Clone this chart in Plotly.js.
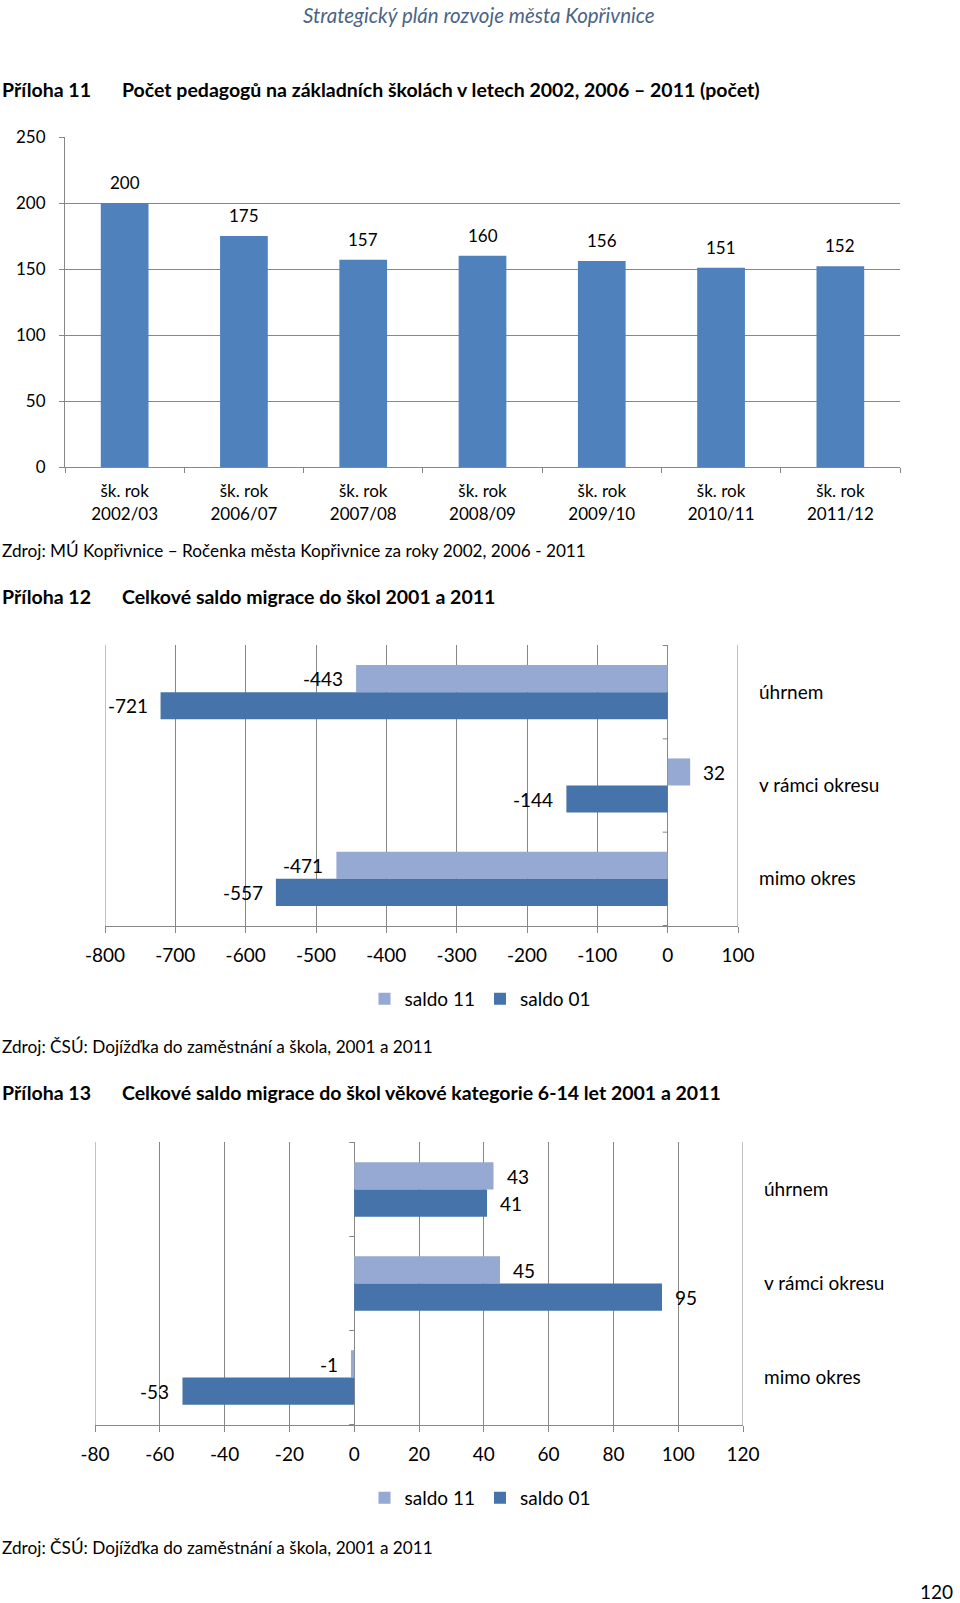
<!DOCTYPE html>
<html>
<head>
<meta charset="utf-8">
<script src="https://cdn.plot.ly/plotly-3.0.1.min.js"></script>
<style>html,body{margin:0;padding:0;background:#fff;}#chart{width:960px;height:1603px;}</style>
</head>
<body>
<div id="chart"></div>
<script>
// ---- data ----
const schoolYears = ['šk. rok<br>2002/03','šk. rok<br>2006/07','šk. rok<br>2007/08','šk. rok<br>2008/09','šk. rok<br>2009/10','šk. rok<br>2010/11','šk. rok<br>2011/12'];
const teachers = [200, 175, 157, 160, 156, 151, 152];

const groups = ['úhrnem', 'v rámci okresu', 'mimo okres'];
const seriesNames = ['saldo 11', 'saldo 01'];
const allSaldo11 = [-443, 32, -471];
const allSaldo01 = [-721, -144, -557];
const kidsSaldo11 = [43, 45, -1];
const kidsSaldo01 = [41, 95, -53];

const yTicks1 = [0, 50, 100, 150, 200, 250];
const xTicks2 = [-800, -700, -600, -500, -400, -300, -200, -100, 0, 100];
const xTicks3 = [-80, -60, -40, -20, 0, 20, 40, 60, 80, 100, 120];

// ---- styling ----
const W = 960, H = 1603;
const FONT = 'Lato, "Open Sans", sans-serif';
const GRID = '#878787';
const C1 = '#4F81BD', LIGHT = '#95A9D2', DARK = '#4674AA';
const px = v => v / W;
const py = v => 1 - v / H;

const traces = [
  {type: 'bar', x: schoolYears, y: teachers, xaxis: 'x', yaxis: 'y', marker: {color: C1}, width: 0.4, showlegend: false, hoverinfo: 'skip'},
  {type: 'bar', orientation: 'h', name: seriesNames[0], x: allSaldo11, y: groups, xaxis: 'x2', yaxis: 'y2', marker: {color: LIGHT}, legend: 'legend'},
  {type: 'bar', orientation: 'h', name: seriesNames[1], x: allSaldo01, y: groups, xaxis: 'x2', yaxis: 'y2', marker: {color: DARK}, legend: 'legend'},
  {type: 'bar', orientation: 'h', name: seriesNames[0], x: kidsSaldo11, y: groups, xaxis: 'x3', yaxis: 'y3', marker: {color: LIGHT}, legend: 'legend2'},
  {type: 'bar', orientation: 'h', name: seriesNames[1], x: kidsSaldo01, y: groups, xaxis: 'x3', yaxis: 'y3', marker: {color: DARK}, legend: 'legend2'}
];

const ann = [];
function txt(text, x, y, opts) {
  ann.push(Object.assign({text: text, x: px(x), y: py(y), xref: 'paper', yref: 'paper', showarrow: false,
    xanchor: 'left', yanchor: 'middle', font: {family: FONT, size: 19.5, color: '#000'}}, opts || {}));
}
const srcFont = {family: FONT, size: 17.2, color: '#000'};
txt('Strategický plán rozvoje města Kopřivnice', 479, 15, {xanchor: 'center', font: {family: FONT, size: 20.5, color: '#4B6485', style: 'italic'}});
txt('<b>Příloha 11</b>', 0, 90);
txt('<b>Počet pedagogů na základních školách v letech 2002, 2006 – 2011 (počet)</b>', 120, 90);
txt('Zdroj: MÚ Kopřivnice – Ročenka města Kopřivnice za roky 2002, 2006 - 2011', 0, 551, {font: srcFont});
txt('<b>Příloha 12</b>', 0, 596);
txt('<b>Celkové saldo migrace do škol 2001 a 2011</b>', 120, 596);
txt('Zdroj: ČSÚ: Dojížďka do zaměstnání a škola, 2001 a 2011', 0, 1046, {font: srcFont});
txt('<b>Příloha 13</b>', 0, 1092);
txt('<b>Celkové saldo migrace do škol věkové kategorie 6-14 let 2001 a 2011</b>', 120, 1092);
txt('Zdroj: ČSÚ: Dojížďka do zaměstnání a škola, 2001 a 2011', 0, 1547, {font: srcFont});
txt('120', 955, 1591, {xanchor: 'right', font: {family: FONT, size: 19, color: '#000'}});

// data labels
schoolYears.forEach((c, i) => ann.push({x: c, y: teachers[i], xref: 'x', yref: 'y', text: String(teachers[i]), showarrow: false,
  yanchor: 'bottom', yshift: 8, font: {family: FONT, size: 17, color: '#000'}}));
function hLabels(vals, xa, ya, shiftY) {
  vals.forEach((v, i) => ann.push({x: v, y: groups[i], xref: xa, yref: ya, text: String(v), showarrow: false,
    xanchor: v < 0 ? 'right' : 'left', xshift: v < 0 ? -11 : 11, yshift: shiftY, yanchor: 'middle',
    font: {family: FONT, size: 19, color: '#000'}}));
}
hLabels(allSaldo11, 'x2', 'y2', 13.5);
hLabels(allSaldo01, 'x2', 'y2', -13.5);
hLabels(kidsSaldo11, 'x3', 'y3', 13.5);
hLabels(kidsSaldo01, 'x3', 'y3', -13.5);

// small category tick marks on the zero line, and gridlines at the range edges
const shapes = [];
function catTicks(xa, ya, ticks) {
  for (let k = 0; k <= groups.length; k++) {
    shapes.push({type: 'line', xref: xa, yref: ya, xsizemode: 'pixel', xanchor: 0, x0: -5, x1: 0,
      y0: k - 0.5, y1: k - 0.5, line: {color: GRID, width: 1}});
  }
  [ticks[0], ticks[ticks.length - 1]].forEach(t => shapes.push({type: 'line', xref: xa, yref: ya + ' domain',
    x0: t, x1: t, y0: 0, y1: 1, line: {color: GRID, width: 1}, layer: 'below'}));
}
catTicks('x2', 'y2', xTicks2);
catTicks('x3', 'y3', xTicks3);

const hx = (domain, ticks, anchor) => ({domain: domain, range: [ticks[0], ticks[ticks.length - 1]], anchor: anchor,
  tickmode: 'array', tickvals: ticks, ticktext: ticks.map(String),
  showgrid: true, gridcolor: GRID, gridwidth: 1, zeroline: true, zerolinecolor: GRID, zerolinewidth: 1,
  showline: true, linecolor: GRID, linewidth: 1, ticks: 'outside', ticklen: 6, tickcolor: GRID,
  ticklabelstandoff: 6, tickfont: {family: FONT, size: 19, color: '#000'}, fixedrange: true});
const hy = (domain, anchor) => ({domain: domain, anchor: anchor, type: 'category', categoryorder: 'array', categoryarray: groups,
  autorange: 'reversed', side: 'right', showgrid: false, showline: false, zeroline: false, ticks: '',
  ticklabelstandoff: 20, tickfont: {family: FONT, size: 19, color: '#000'}, fixedrange: true});

const layout = {
  width: W, height: H, margin: {l: 0, r: 0, t: 0, b: 0}, paper_bgcolor: '#fff', plot_bgcolor: 'rgba(0,0,0,0)',
  font: {family: FONT, color: '#000'}, barmode: 'group', bargap: 0.42, bargroupgap: 0,
  xaxis: {domain: [px(65), px(900)], anchor: 'y', type: 'category', tickson: 'boundaries', ticks: 'outside', ticklen: 5,
    tickcolor: GRID, showline: true, linecolor: GRID, showgrid: false, ticklabelstandoff: 9,
    tickfont: {family: FONT, size: 17, color: '#000'}, fixedrange: true},
  yaxis: {domain: [py(467), py(137)], anchor: 'x', range: [0, 250], tickmode: 'array', tickvals: yTicks1,
    showgrid: true, gridcolor: GRID, gridwidth: 1, zeroline: false, showline: true, linecolor: GRID,
    ticks: 'outside', ticklen: 5, tickcolor: GRID, ticklabelstandoff: 10,
    tickfont: {family: FONT, size: 17, color: '#000'}, fixedrange: true},
  xaxis2: hx([px(105), px(738)], xTicks2, 'y2'),
  yaxis2: hy([py(926), py(645)], 'x2'),
  xaxis3: hx([px(95), px(743)], xTicks3, 'y3'),
  yaxis3: hy([py(1425), py(1142)], 'x3'),
  legend: {orientation: 'h', x: px(480), y: py(999), xanchor: 'center', yanchor: 'middle', font: {family: FONT, size: 19, color: '#000'}},
  legend2: {orientation: 'h', x: px(480), y: py(1498), xanchor: 'center', yanchor: 'middle', font: {family: FONT, size: 19, color: '#000'}},
  annotations: ann,
  shapes: shapes
};

Plotly.newPlot('chart', traces, layout, {displayModeBar: false, staticPlot: true});
</script>
</body>
</html>
